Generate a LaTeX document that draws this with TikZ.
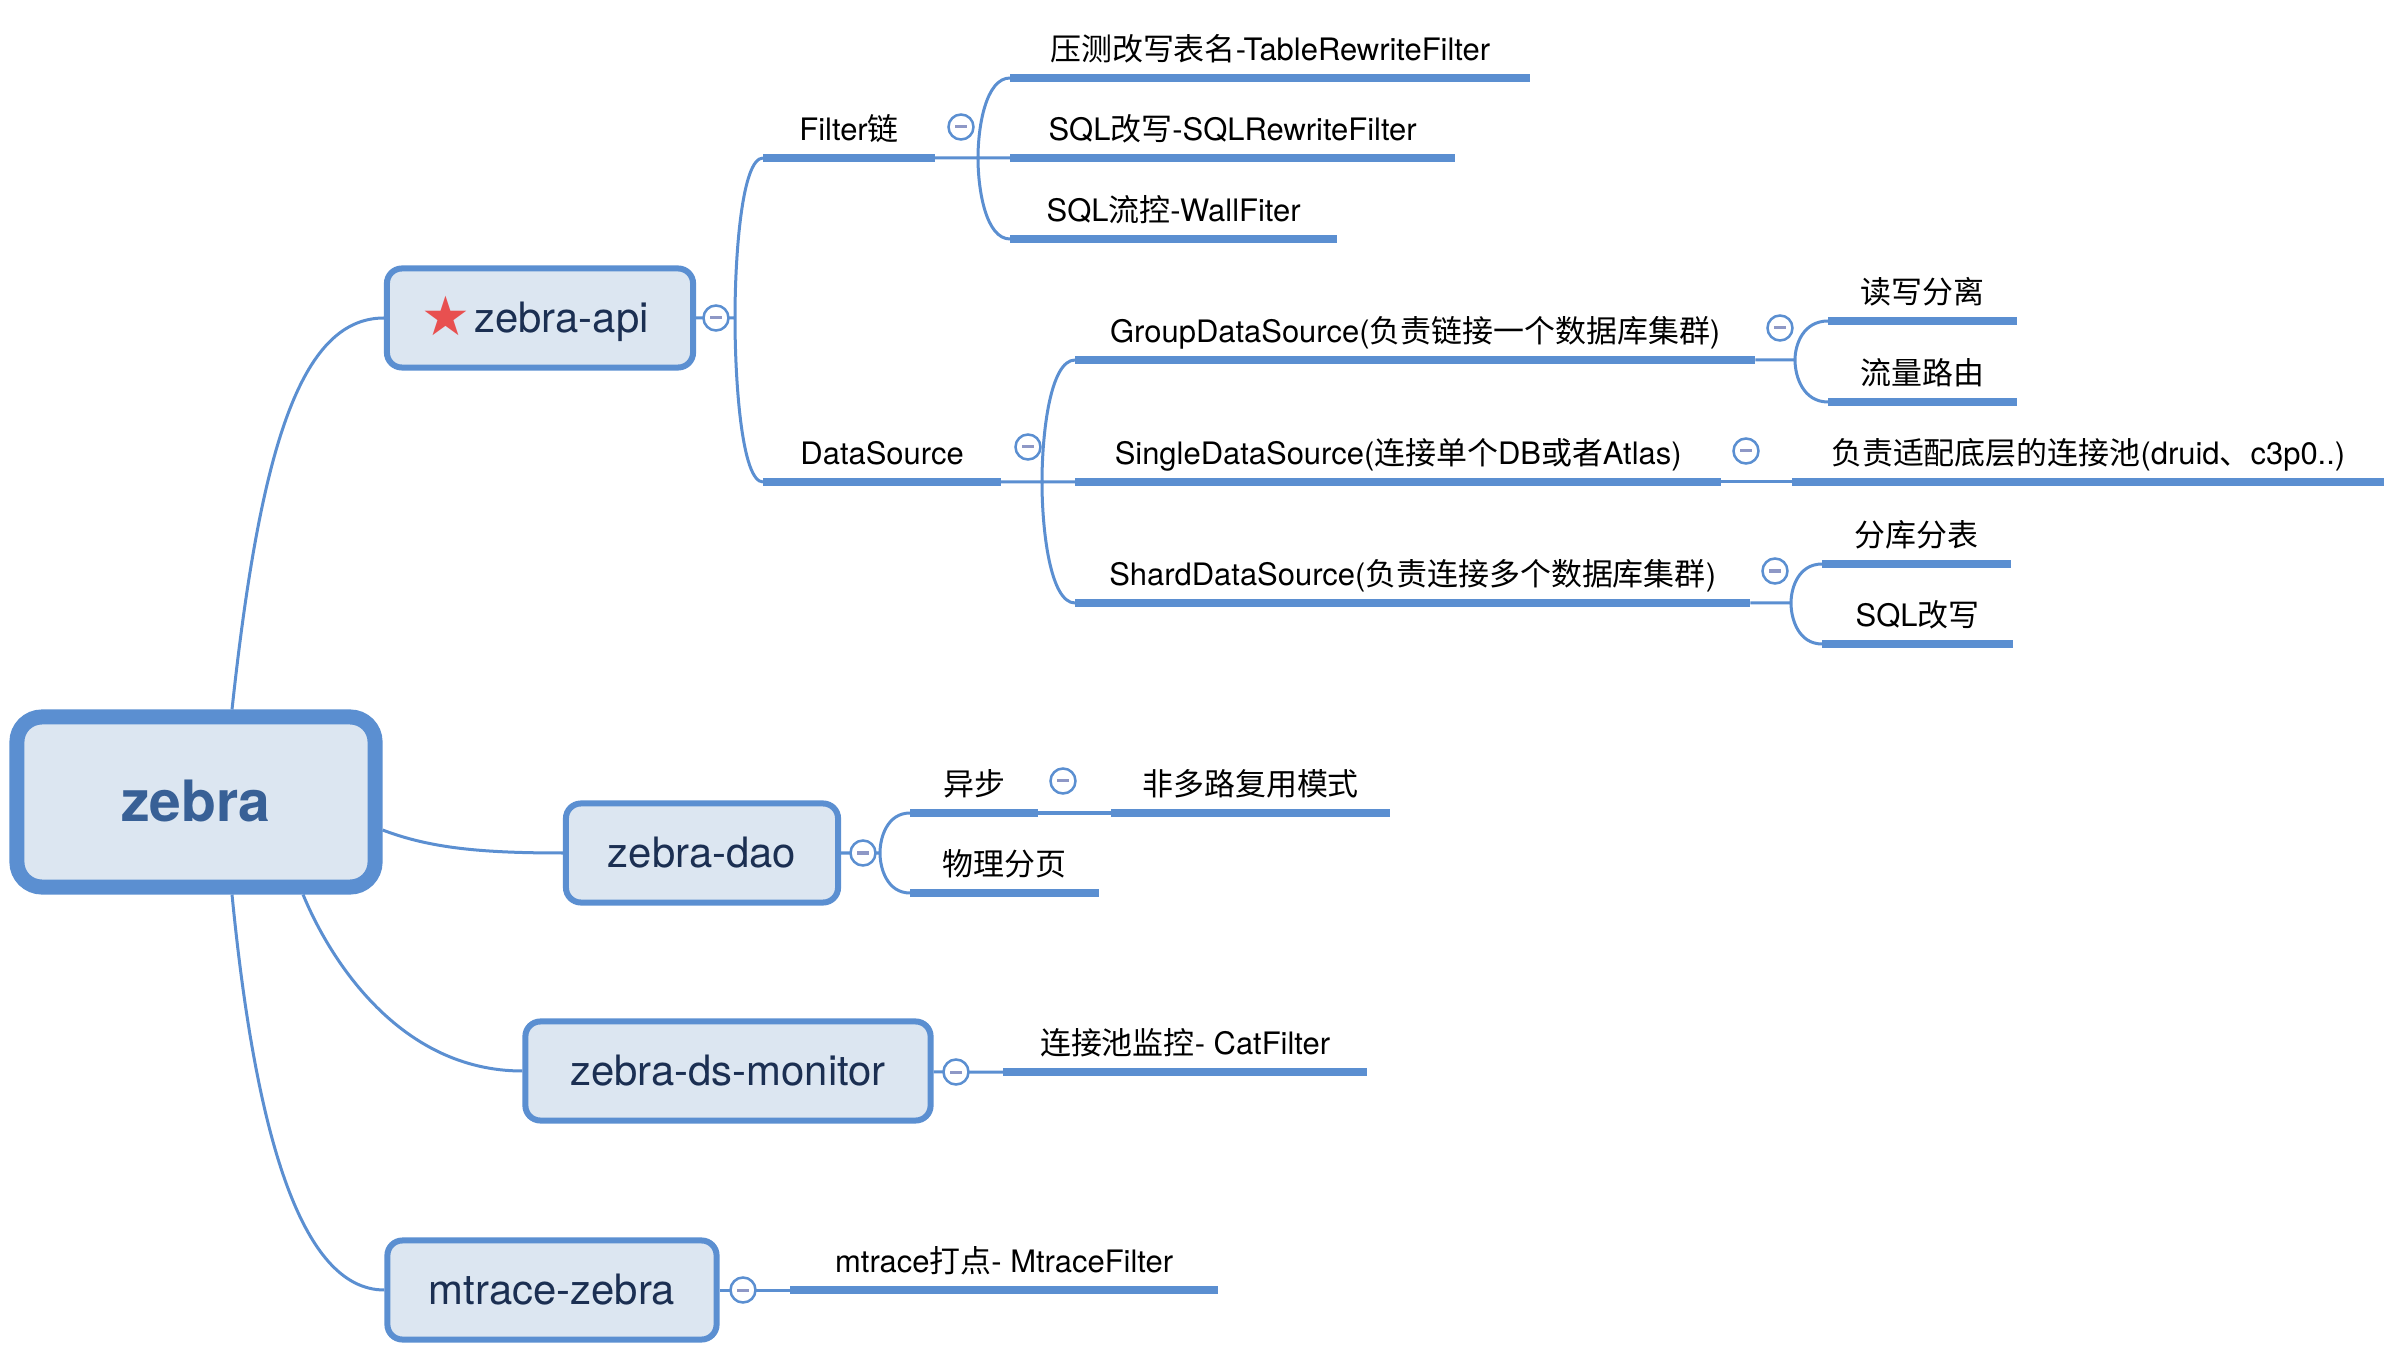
\documentclass[tikz,border=0pt]{standalone}
\usepackage{fontspec}
\setmainfont{TeX Gyre Heros}
\newfontfamily\cjk{Noto Sans CJK SC}
\newfontfamily\sym{DejaVu Sans}
\usetikzlibrary{calc}

\definecolor{mapblue}{RGB}{91,143,209}
\definecolor{boxfill}{RGB}{220,230,241}
\definecolor{roottext}{RGB}{56,96,150}
\definecolor{boxtext}{RGB}{27,47,82}
\definecolor{foldbar}{RGB}{142,152,198}
\definecolor{starred}{RGB}{232,80,80}

\newcommand\foldmark{\textcolor{foldbar}{\rule[-.015cm]{.12cm}{.03cm}}}

\begin{document}
\begin{tikzpicture}[x=0.01cm,y=-0.01cm,
  conn/.style={draw=mapblue,line width=.03cm},
  uline/.style={draw=mapblue,line width=.08cm},
  root node/.style={rectangle,rounded corners=.25cm,draw=mapblue,line width=.15cm,fill=boxfill,text=roottext,font=\fontsize{16.2}{18}\selectfont\bfseries,minimum width=3.58cm,minimum height=1.7cm,text height=1.12em,text depth=0pt},
  main node/.style={rectangle,rounded corners=.15cm,draw=mapblue,line width=.06cm,fill=boxfill,text=boxtext,font=\fontsize{11.9}{14}\selectfont,minimum height=.99cm,text height=.9em,text depth=.08em},
  sub node/.style={anchor=south west,inner xsep=0pt,inner ysep=.1cm,outer sep=0pt,text height=.72em,text depth=.2em,font=\fontsize{8.8}{10}\selectfont},
  fold/.style={circle,draw=mapblue,fill=white,line width=.025cm,minimum size=.25cm,inner sep=0pt,outer sep=0pt},
  fork/.style={to path={.. controls ($(\tikztostart)!.4!(\tikztostart|-\tikztotarget)$) and ($(\tikztotarget)!.75!(\tikztostart|-\tikztotarget)$) .. (\tikztotarget)}}]
\useasboundingbox (0,0) rectangle (2408,1364);

% root and main branches
\node[root node] (zebra) at (196,802) {zebra};
\node[main node,minimum width=3.06cm] (api) at (540,318) {\hspace{-.1cm}\raisebox{-.08em}{\sym\fontsize{15.5}{16}\selectfont\color{starred}★}\hspace{.04cm}zebra-api};
\node[main node,minimum width=2.72cm] (dao) at (702,853) {zebra-dao};
\node[main node,minimum width=4.05cm] (mon) at (728,1071) {zebra-ds-monitor};
\node[main node,minimum width=3.29cm] (mtr) at (552,1290) {mtrace-zebra};

% topics
\node[sub node,minimum width=1.72cm] (filt) at (763,158) {Filter{\cjk 链}};
\node[sub node,minimum width=2.38cm] (dsrc) at (763,482) {DataSource};
\node[sub node,minimum width=5.2cm] (t1) at (1010,78) {{\cjk 压测改写表名}-TableRewriteFilter};
\node[sub node,minimum width=4.45cm] (t2) at (1010,158) {SQL{\cjk 改写}-SQLRewriteFilter};
\node[sub node,minimum width=3.27cm] (t3) at (1010,239) {SQL{\cjk 流控}-WallFiter};
\node[sub node,minimum width=6.8cm] (grp) at (1075,360) {GroupDataSource({\cjk 负责链接一个数据库集群})};
\node[sub node,minimum width=6.46cm] (sgl) at (1075,482) {SingleDataSource({\cjk 连接单个}DB{\cjk 或者}Atlas)};
\node[sub node,minimum width=6.75cm] (shd) at (1075,603) {ShardDataSource({\cjk 负责连接多个数据库集群})};
\node[sub node,minimum width=1.89cm] (rw) at (1828,321) {{\cjk 读写分离}};
\node[sub node,minimum width=1.89cm] (route) at (1828,402) {{\cjk 流量路由}};
\node[sub node,minimum width=5.92cm] (pool) at (1792,482) {{\cjk 负责适配底层的连接池}(druid{\cjk 、}c3p0..)};
\node[sub node,minimum width=1.89cm] (shard) at (1822,564) {{\cjk 分库分表}};
\node[sub node,minimum width=1.91cm] (rewrite) at (1822,644) {SQL{\cjk 改写}};
\node[sub node,minimum width=1.28cm] (async) at (910,813) {{\cjk 异步}};
\node[sub node,minimum width=2.79cm] (nomux) at (1111,813) {{\cjk 非多路复用模式}};
\node[sub node,minimum width=1.89cm] (page) at (910,893) {{\cjk 物理分页}};
\node[sub node,minimum width=3.64cm] (cat) at (1003,1072) {{\cjk 连接池监控}- CatFilter};
\node[sub node,minimum width=4.28cm] (trace) at (790,1290) {mtrace{\cjk 打点}- MtraceFilter};

% collapse buttons
\node[fold] (apif) at (716,318) {\foldmark};
\node[fold] (filtf) at (961,127) {\foldmark};
\node[fold] (dsrcf) at (1028,447) {\foldmark};
\node[fold] (grpf) at (1780,328) {\foldmark};
\node[fold] (sglf) at (1746,451) {\foldmark};
\node[fold] (shdf) at (1775,571) {\foldmark};
\node[fold] (daof) at (863,853) {\foldmark};
\node[fold] (asyncf) at (1063,781) {\foldmark};
\node[fold] (monf) at (956,1072) {\foldmark};
\node[fold] (mtrf) at (743,1290) {\foldmark};

\coordinate (apib) at (735,318);
\coordinate (filtb) at (978,158);
\coordinate (dsrcb) at (1042,482);
\coordinate (grpb) at (1795,360);
\coordinate (shdb) at (1791,603);
\coordinate (daob) at (880,853);

% connectors
\draw[conn] ([xshift=.36cm]zebra.north) .. controls (260,450) and (300,318) .. (api.west)
  ([yshift=-.28cm]zebra.east) .. controls (430,848) and (480,853) .. (dao.west)
  ([xshift=1.07cm]zebra.south) .. controls (330,960) and (400,1071) .. (mon.west)
  ([xshift=.36cm]zebra.south) .. controls (255,1130) and (300,1290) .. (mtr.west);
\draw[conn] (api) -- (apif) (apif) -- (apib)
  (apib) to[fork] (filt.south west) (apib) to[fork] (dsrc.south west);
\draw[conn] (filt.south east) -- (filtb) (filtb) to[fork] (t1.south west)
  (filtb) -- (t2.south west) (filtb) to[fork] (t3.south west);
\draw[conn] (dsrc.south east) -- (dsrcb) (dsrcb) to[fork] (grp.south west)
  (dsrcb) -- (sgl.south west) (dsrcb) to[fork] (shd.south west);
\draw[conn] (grp.south east) -- (grpb) (grpb) to[fork] (rw.south west) (grpb) to[fork] (route.south west);
\draw[conn] (sgl.south east) -- (pool.south west);
\draw[conn] (shd.south east) -- (shdb) (shdb) to[fork] (shard.south west) (shdb) to[fork] (rewrite.south west);
\draw[conn] (dao) -- (daof) (daof) -- (daob)
  (daob) to[fork] (async.south west) (daob) to[fork] (page.south west);
\draw[conn] (async.south east) -- (nomux.south west);
\draw[conn] (mon) -- (monf) (monf) -- (cat.south west);
\draw[conn] (mtr) -- (mtrf) (mtrf) -- (trace.south west);

\foreach \n in {filt,dsrc,t1,t2,t3,grp,sgl,shd,rw,route,pool,shard,rewrite,async,nomux,page,cat,trace}
  \draw[uline] (\n.south west) -- (\n.south east);
\end{tikzpicture}
\end{document}
